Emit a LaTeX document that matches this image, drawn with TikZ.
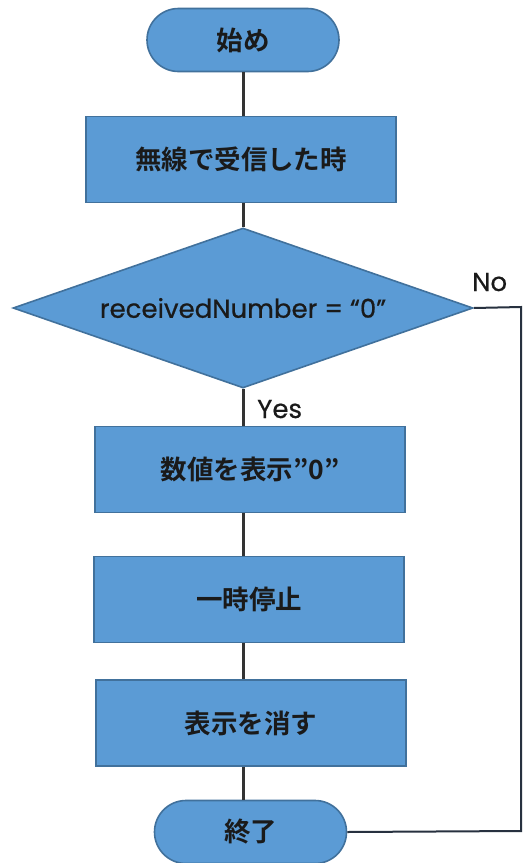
\documentclass[tikz,border=0pt]{standalone}
\usepackage{fontspec}
\newfontfamily\jpfont{Noto Sans CJK JP Bold}
\newfontfamily\latfont{Poppins}[FakeBold=0.6]
\usetikzlibrary{shapes.geometric,shapes.misc}
\definecolor{boxfill}{HTML}{5B9BD5}
\definecolor{boxline}{HTML}{41719C}
\definecolor{conn}{HTML}{333333}
\definecolor{noconn}{HTML}{27313F}
\definecolor{txt}{HTML}{1A1A1A}
\tikzset{
  base/.style={fill=boxfill,draw=boxline,line width=1.6pt,font=\jpfont\fontsize{26.5}{30}\selectfont,text=txt},
  procbox/.style={base,rectangle,minimum width=310pt,minimum height=86pt,inner sep=0pt},
  term/.style={base,rounded rectangle,minimum width=192pt,minimum height=63pt,inner sep=0pt},
  decision/.style={base,diamond,inner sep=0pt,minimum width=460pt,minimum height=160pt,aspect=2.875,font=\latfont\fontsize{26}{30}\selectfont},
  conline/.style={draw=conn,line width=3pt},
  noline/.style={draw=noconn,line width=2pt},
  lab/.style={font=\latfont\fontsize{26}{30}\selectfont,text=txt,inner sep=0pt}
}
\begin{document}
\begin{tikzpicture}[x=1pt,y=-1pt]
\useasboundingbox[fill=white] (0,0) rectangle (528,863);
\node[term] (start) at (243,40) {始め};
\node[procbox] (recv) at (241,159.5) {無線で受信した時};
\node[decision] (dec) at (243,308) {receivedNumber = “0”};
\node[procbox] (show) at (250,469.5) {数値を表示”0”};
\node[procbox] (pause) at (249,599.5) {一時停止};
\node[procbox] (clear) at (251,723) {表示を消す};
\node[term] (stop) at (250.5,832) {終了};
\coordinate (ntop) at (521,307);
\coordinate (nbot) at (521,831);
\draw[conline] (start.south) -- (start.south |- recv.north);
\draw[conline] (start.south |- recv.south) -- (dec.north);
\draw[conline] (dec.south) -- (dec.south |- show.north);
\draw[conline] (dec.south |- show.south) -- (dec.south |- pause.north);
\draw[conline] (dec.south |- pause.south) -- (dec.south |- clear.north);
\draw[conline] (dec.south |- clear.south) -- (dec.south |- stop.north);
\draw[noline] (dec.east) -- (ntop) -- (nbot) -- (stop.east);
\node[lab,anchor=base west] (yes) at (257,418) {Yes};
\node[lab,anchor=base west] (no) at (472,291) {No};
\end{tikzpicture}
\end{document}
